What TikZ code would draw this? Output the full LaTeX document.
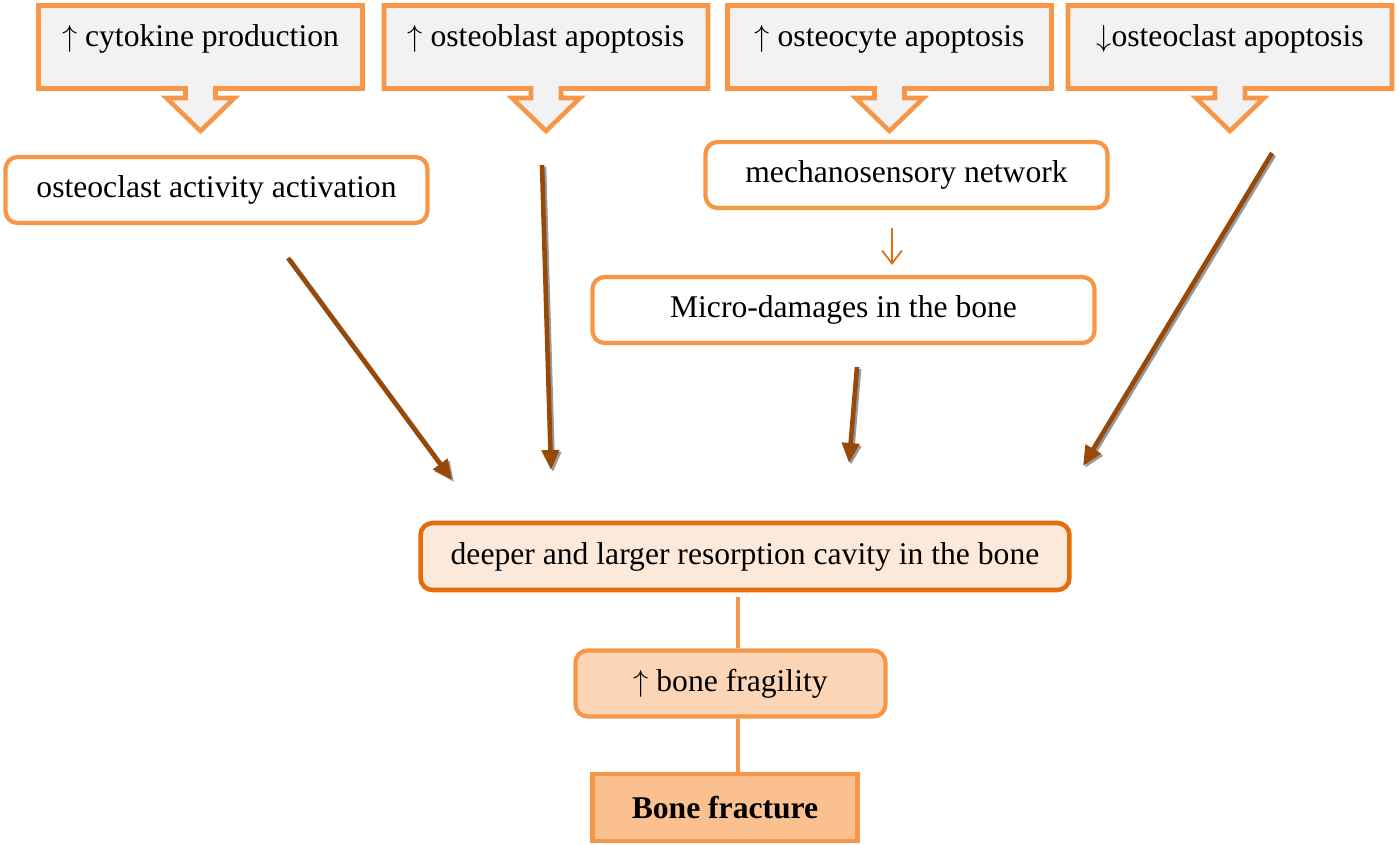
\documentclass[tikz,border=0pt]{standalone}
\usepackage{fontspec}
\setmainfont{Liberation Serif}
\usetikzlibrary{arrows.meta,positioning,calc}
\definecolor{accorange}{HTML}{F79646}
\definecolor{deeporange}{HTML}{E46C0A}
\definecolor{rustbrown}{HTML}{984807}
\definecolor{callgray}{HTML}{F2F2F2}
\definecolor{cavityfill}{HTML}{FDE9D9}
\definecolor{fragfill}{HTML}{FBD5B5}
\definecolor{fracfill}{HTML}{FAC090}
\tikzset{
  % callouts on top
  callline/.style={draw=accorange,fill=callgray,line width=2.6pt,line join=miter},
  calltext/.style={font=\fontsize{18}{22}\selectfont,inner sep=0pt},
  % boxes
  rbox/.style={draw=accorange,fill=white,line width=2.4pt,rounded corners=0.24cm,
    font=\fontsize{18}{22}\selectfont,minimum height=1.32cm,inner sep=0pt},
  cavity/.style={rbox,draw=deeporange,fill=cavityfill,line width=2.6pt},
  fragile/.style={rbox,fill=fragfill},
  fracture/.style={rbox,rounded corners=0pt,fill=fracfill,font=\fontsize{18}{22}\selectfont\bfseries},
  % connectors
  brarr/.style={-{Triangle[length=4mm,width=3.4mm]},draw=rustbrown,line width=2.6pt},
  shadarr/.style={-{Triangle[length=4mm,width=3.4mm]},draw=black!40,line width=2.6pt},
  thinarr/.style={-{Straight Barb[length=2.6mm,width=4mm]},draw=deeporange,line width=1pt},
  link/.style={draw=accorange,line width=2.8pt},
}
\newcommand\downcallout[3]{%
  \draw[callline] (#2-162,5.5) -- (#2+162,5.5) -- (#2+162,88.5) -- (#2+15,88.5)
    -- (#2+15,98) -- (#2+34,98) -- (#2,131) -- (#2-34,98) -- (#2-15,98)
    -- (#2-15,88.5) -- (#2-162,88.5) -- cycle;
  \node[calltext] (#1) at (#2,39) {#3};}

\begin{document}
\begin{tikzpicture}[x=0.02cm,y=-0.02cm]
  \useasboundingbox (0,0) rectangle (1397,845);
  \downcallout{cyto}{200.5}{$\uparrow$ cytokine production}
  \downcallout{oblast}{546}{$\uparrow$ osteoblast apoptosis}
  \downcallout{ocyte}{889.5}{$\uparrow$ osteocyte apoptosis}
  \downcallout{oclast}{1230}{$\downarrow$osteoclast apoptosis}

  \node[rbox,minimum width=8.44cm] (act) at (216.5,190) {osteoclast activity activation};
  \node[rbox,minimum width=8.04cm] (mech) at (906.5,175) {mechanosensory network};
  \node[rbox,minimum width=10.04cm] (micro) at (843.5,310) {Micro-damages in the bone};
  \node[cavity,minimum width=12.98cm,minimum height=1.34cm] (cav) at (745,556.5)
    {deeper and larger resorption cavity in the bone};
  \node[fragile,minimum width=6.2cm] (frag) at (730.5,683.5) {$\uparrow$ bone fragility};
  \node[fracture,minimum width=5.3cm,minimum height=1.34cm] (frac) at (725,807.5) {Bone fracture};

  \coordinate (s1) at (288,258);   \coordinate (e1) at (452,480);
  \coordinate (s2) at (542,165);   \coordinate (e2) at (551,470);
  \coordinate (s3) at (857,367);   \coordinate (e3) at (849,463);
  \coordinate (s4) at (1272,153);  \coordinate (e4) at (1083,466);
  \foreach \i in {1,...,4}{
    \draw[shadarr] ([shift={(2,2)}]s\i) -- ([shift={(2,2)}]e\i);
    \draw[brarr] (s\i) -- (e\i);
  }
  \draw[thinarr] ([yshift=-3.5mm]mech.south -| 892,0) -- ([yshift=2mm]micro.north -| 892,0);

  \coordinate (stem) at (738,0);
  \draw[link] ([yshift=-1mm]cav.south -| stem) -- (frag.north -| stem);
  \draw[link] (frag.south -| stem) -- (frac.north -| stem);
\end{tikzpicture}
\end{document}
